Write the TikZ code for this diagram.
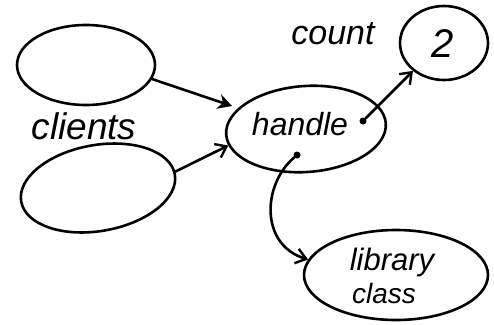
\documentclass[tikz,border=0pt]{standalone}
\usepackage{fontspec}
\setmainfont{Liberation Sans}
\usetikzlibrary{shapes.geometric,arrows.meta}
\begin{document}
\begin{tikzpicture}[x=1pt,y=-1pt,
  pen/.style={line width=2.6pt,line cap=round,line join=round},
  blob/.style={pen,draw,ellipse,inner sep=0pt},
  hand/.style={font=\itshape\fontsize{#1}{#1}\selectfont},
  dot/.style={circle,fill,inner sep=0pt,minimum size=7pt},
  link/.style={pen,-{Straight Barb[length=10pt,width=15pt,line width=2.4pt]}},
  heavy/.style={pen,-{Stealth[length=14pt,width=15pt]}}]
  \useasboundingbox (0,0) rectangle (494,324);
  % clients
  \node[blob,minimum width=138pt,minimum height=80pt] (c1) at (86,65) {};
  \node[blob,minimum width=156pt,minimum height=86pt,rotate=10] (c2) at (98,188) {};
  \node[hand=37] (clab) at (84,126) {clients};
  % handle
  \node[blob,minimum width=160pt,minimum height=86pt,rotate=4] (h) at (306,129) {};
  \node[hand=32] (hlab) at (300,124) {handle};
  \node[dot] (d1) at (363,121) {};
  \node[dot] (d2) at (297,155) {};
  % count
  \node[blob,minimum width=88pt,minimum height=74pt] (cnt) at (444,43) {};
  \node[hand=40] (two) at (443,44) {2};
  \node[hand=34] (clbl) at (333,34) {count};
  % library class
  \node[blob,minimum width=184pt,minimum height=90pt] (lib) at (396,275) {};
  \node[hand=31] (llab) at (392,262) {library};
  \node[hand=28] (llab2) at (384,293) {class};
  % connectors
  \draw[heavy] (c1.-12) -- (232,106) coordinate (a1);
  \draw[link] (c2.2) -- (h.188);
  \draw[link] (d1) -- (cnt.222);
  \draw[link] (d2) .. controls (262,185) and (260,245) .. (lib.170);
\end{tikzpicture}
\end{document}
